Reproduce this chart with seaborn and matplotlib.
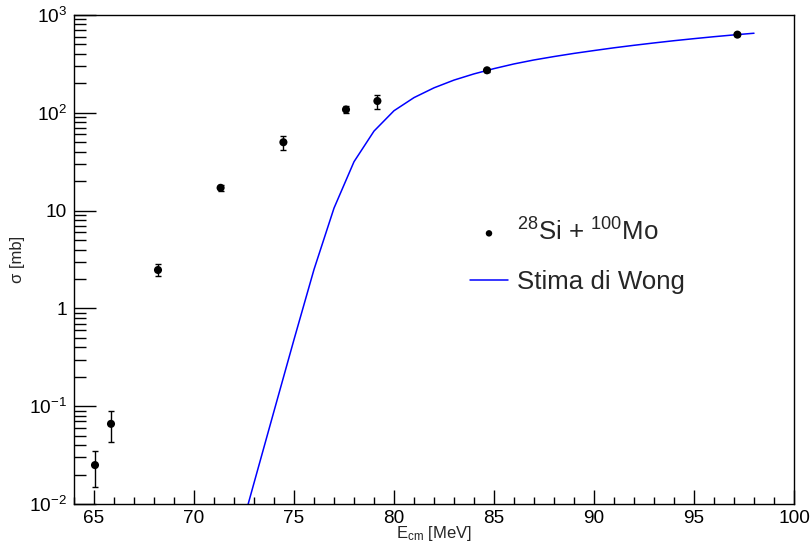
import numpy as np
import pandas as pd
import seaborn as sns
import matplotlib
matplotlib.use("Agg")
import matplotlib.pyplot as plt
from matplotlib.ticker import FixedLocator, FixedFormatter, LogLocator, MultipleLocator, NullFormatter

# ---- data ----
e_data = [65.05, 65.85, 68.2, 71.33, 74.47, 77.6, 79.17, 84.65, 97.17]
sigma_data = [0.025, 0.066, 2.47, 17.1, 50.0, 108.0, 132.0, 272.0, 630.0]
sigma_lo = [0.0148, 0.0434, 2.14, 16.0, 41.3, 100.0, 110.0, 264.0, 612.0]
sigma_hi = [0.0348, 0.0888, 2.83, 18.3, 58.0, 117.0, 153.0, 280.0, 648.0]

e_wong = [72, 73, 74, 75, 76, 77, 78, 79, 80, 81, 82, 83, 84, 85, 86, 87,
          88, 89, 90, 91, 92, 93, 94, 95, 96, 97, 98]
sigma_wong = [0.003, 0.0164, 0.089, 0.48, 2.5, 10.6, 31.6, 65.0, 105.0, 143.0,
              180.0, 216.0, 250.0, 283.0, 316.0, 347.0, 376.0, 405.0, 433.0,
              462.0, 490.0, 518.0, 546.0, 573.0, 600.0, 626.0, 651.0]

x_ticks = [65, 70, 75, 80, 85, 90, 95, 100]
x_tick_labels = ["65", "70", "75", "80", "85", "90", "95", "100"]
y_ticks = [1e-2, 1e-1, 1, 10, 1e2, 1e3]
y_tick_labels = [r"$10^{-2}$", r"$10^{-1}$", "1", "10", r"$10^{2}$", r"$10^{3}$"]

label_data = r"$^{28}$Si + $^{100}$Mo"
label_wong = "Stima di Wong"

df_data = pd.DataFrame({"E": e_data, "sigma": sigma_data})
df_wong = pd.DataFrame({"E": e_wong, "sigma": sigma_wong})

# ---- style ----
sns.set_theme(style="white")
plt.rcParams["font.family"] = ["Liberation Sans", "DejaVu Sans"]
plt.rcParams["mathtext.fontset"] = "custom"
plt.rcParams["mathtext.rm"] = "Liberation Sans"
plt.rcParams["mathtext.it"] = "Liberation Sans:italic"
plt.rcParams["mathtext.bf"] = "Liberation Sans:bold"
plt.rcParams["mathtext.default"] = "regular"

fig = plt.figure(figsize=(8.12, 5.55), dpi=100)
ax = fig.add_axes([74 / 812, 1 - 504 / 555, 720 / 812, 489 / 555])
ax.set_yscale("log")

# Wong estimate
sns.lineplot(data=df_wong, x="E", y="sigma", ax=ax, color="#0000ff",
             linewidth=1.1, label=label_wong, sort=True)

# data with asymmetric errors
yerr = np.array([np.array(sigma_data) - np.array(sigma_lo),
                 np.array(sigma_hi) - np.array(sigma_data)])
ax.errorbar(e_data, sigma_data, yerr=yerr, fmt="none", ecolor="black",
            elinewidth=1.0, capsize=2.2, capthick=1.0, zorder=3)
sns.scatterplot(data=df_data, x="E", y="sigma", ax=ax, color="black", s=34,
                edgecolor="none", label=label_data, zorder=4)

ax.set_xlim(64, 100)
ax.set_ylim(1e-2, 1e3)

ax.xaxis.set_major_locator(FixedLocator(x_ticks))
ax.xaxis.set_major_formatter(FixedFormatter(x_tick_labels))
ax.xaxis.set_minor_locator(MultipleLocator(1))
ax.yaxis.set_major_locator(FixedLocator(y_ticks))
ax.yaxis.set_major_formatter(FixedFormatter(y_tick_labels))
ax.yaxis.set_minor_locator(LogLocator(base=10, subs=np.arange(2, 10)))
ax.yaxis.set_minor_formatter(NullFormatter())

ax.tick_params(axis="both", which="both", direction="in", top=False, right=False,
               bottom=True, left=True, colors="black", width=1.0, labelsize=13.7)
ax.tick_params(axis="x", which="major", length=10, pad=4)
ax.tick_params(axis="x", which="minor", length=5)
ax.tick_params(axis="y", which="major", length=15.6, pad=5)
ax.tick_params(axis="y", which="minor", length=8.6)

for sp in ax.spines.values():
    sp.set_color("black")
    sp.set_linewidth(1.0)
    sp.set_visible(True)

ax.set_xlabel(r"E$_{\rm cm}$ [MeV]", fontsize=12)
ax.set_ylabel("σ [mb]", fontsize=12)
ax.xaxis.set_label_coords(0.5, -0.041)
ax.yaxis.set_label_coords(-0.068, 0.5)

h, l = ax.get_legend_handles_labels()
order = [l.index(label_data), l.index(label_wong)]
ax.legend([h[i] for i in order], [l[i] for i in order], loc="upper left",
          bbox_to_anchor=(0.55, 0.585), frameon=False, fontsize=18.6,
          handlelength=1.47, handletextpad=0.36, labelspacing=0.95,
          borderpad=0, borderaxespad=0, markerscale=0.8)

fig.savefig("out.png", dpi=100)
